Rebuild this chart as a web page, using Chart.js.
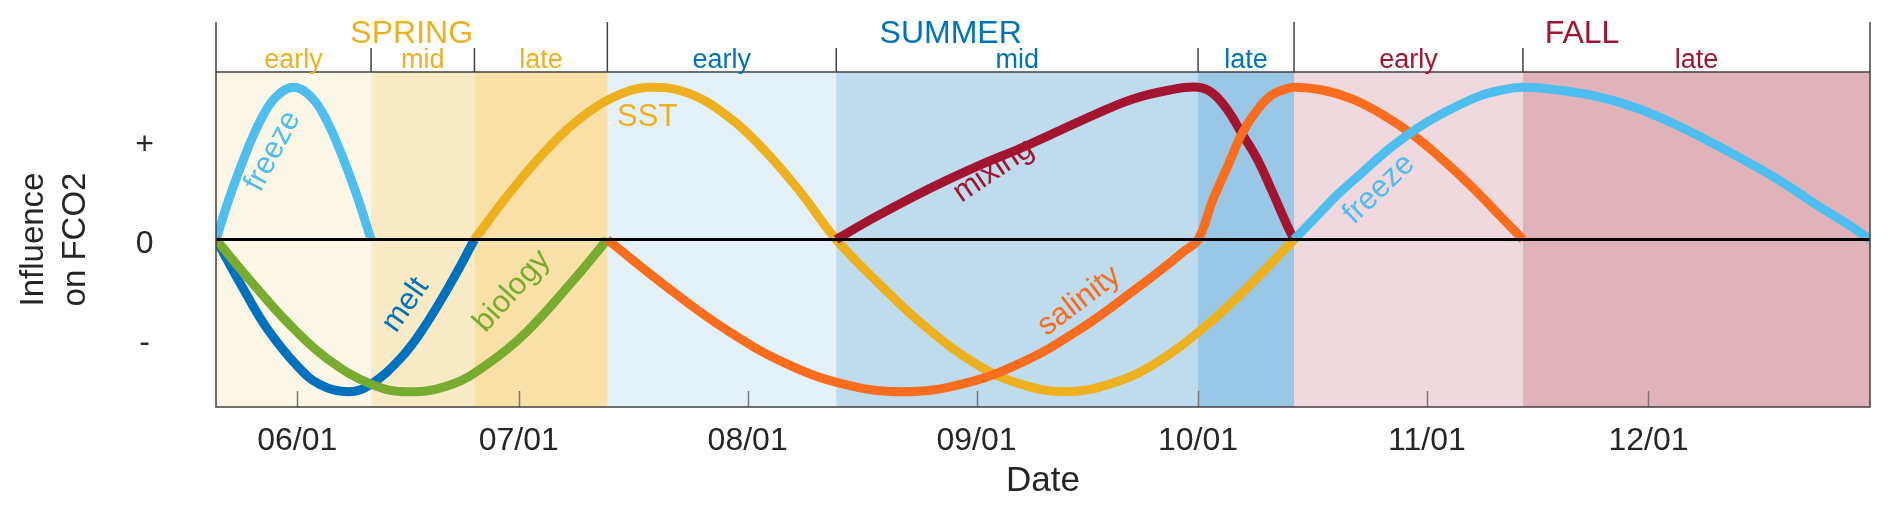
<!DOCTYPE html>
<html>
<head>
<meta charset="utf-8">
<title>Seasonal influence on FCO2</title>
<script src="https://cdn.jsdelivr.net/npm/chart.js@4.4.1/dist/chart.umd.min.js"></script>
<style>
  html, body { margin: 0; padding: 0; background: #fff; }
  #wrap { width: 1892px; height: 514px; }
</style>
</head>
<body>
<div id="wrap"><canvas id="chart" width="1892" height="514"></canvas></div>
<script>
// dates are MM/DD within one (non-leap) year, values are relative influence
const xStart = '05/21';
const xEnd = '12/31';

const seasonNames = ['SPRING', 'SUMMER', 'FALL'];
const seasonBounds = ['05/21', '07/13', '10/14', '12/31'];
const phaseNames = ['early', 'mid', 'late', 'early', 'mid', 'late', 'early', 'late'];
const phaseBounds = ['05/21', '06/11', '06/25', '07/13', '08/13', '10/01', '10/14', '11/14', '12/31'];
const phaseSeason = [0, 0, 0, 1, 1, 1, 2, 2];

const monthTicks = ['06/01', '07/01', '08/01', '09/01', '10/01', '11/01', '12/01'];
const yTickValues = [-0.65, 0, 0.65];
const yTickLabels = ['-', '0', '+'];

const zeroDates = ['05/21', '12/31'];
const zeroValues = [0, 0];

const freezeSpringDates = ['05/21', '05/23', '05/25', '05/27', '05/29', '05/31.5', '06/03', '06/05', '06/07', '06/09', '06/11'];
const freezeSpringValues = [0, 0.30, 0.56, 0.78, 0.93, 1.0, 0.93, 0.78, 0.56, 0.30, 0];

const meltDates = ['05/21', '05/25', '05/28', '06/01', '06/04', '06/08', '06/11', '06/15', '06/18', '06/22', '06/25'];
const meltValues = [0, -0.35, -0.59, -0.83, -0.95, -1.0, -0.95, -0.78, -0.59, -0.27, 0];

const biologyDates = ['05/21', '05/26', '05/31', '06/05', '06/11', '06/16', '06/22', '06/27', '07/02', '07/08', '07/13'];
const biologyValues = [0, -0.29, -0.56, -0.78, -0.95, -1.0, -0.95, -0.81, -0.61, -0.29, 0];

const sstDates = ['06/25', '06/30', '07/05', '07/10', '07/15', '07/19', '07/24', '07/29', '08/03', '08/08', '08/13',
  '08/19', '08/25', '09/01', '09/07', '09/13', '09/19', '09/25', '10/02', '10/08', '10/14'];
const sstValues = [0, 0.32, 0.60, 0.82, 0.96, 1.0, 0.96, 0.82, 0.60, 0.32, 0,
  -0.30, -0.57, -0.82, -0.95, -1.0, -0.95, -0.82, -0.57, -0.30, 0];

const salinityDates = ['07/13', '07/21', '07/29', '08/06', '08/14', '08/22', '08/30', '09/07', '09/15', '09/23', '09/27', '09/29', '10/01',
  '10/03', '10/05', '10/07', '10/09', '10/11', '10/13', '10/14',
  '10/18', '10/22', '10/26', '10/30', '11/03', '11/07', '11/11', '11/14'];
const salinityValues = [0, -0.31, -0.59, -0.81, -0.95, -1.0, -0.95, -0.81, -0.59, -0.31, -0.16, -0.08, 0,
  0.26, 0.48, 0.70, 0.85, 0.95, 0.99, 1.0,
  0.98, 0.92, 0.82, 0.69, 0.53, 0.35, 0.15, 0];

const mixingDates = ['08/13', '08/18', '08/23', '08/28', '09/02', '09/07', '09/12', '09/17', '09/22', '09/27', '10/01',
  '10/03', '10/05', '10/07', '10/09', '10/11', '10/13', '10/14'];
const mixingValues = [0, 0.14, 0.27, 0.39, 0.50, 0.60, 0.71, 0.82, 0.92, 0.98, 1.0,
  0.96, 0.85, 0.69, 0.53, 0.32, 0.10, 0];

const freezeFallDates = ['10/14', '10/17', '10/20', '10/23', '10/27', '10/31', '11/04', '11/08', '11/11', '11/14',
  '11/19', '11/24', '11/29', '12/04', '12/09', '12/14', '12/19', '12/24', '12/28', '12/31'];
const freezeFallValues = [0, 0.15, 0.30, 0.43, 0.60, 0.74, 0.85, 0.94, 0.98, 1.0,
  0.98, 0.94, 0.87, 0.77, 0.65, 0.52, 0.38, 0.22, 0.10, 0];

// styling
const FONT = '"Liberation Sans", Arial, Helvetica, sans-serif';
const TEXT = '#262626';
const seasonColors = ['#EDB120', '#0072BD', '#A2142F'];
const phaseAlpha = [0.1, 0.25, 0.4, 0.1, 0.25, 0.4, 0.16, 0.33];
const C = {
  freeze: '#4DBEEE',
  melt: '#0072BD',
  biology: '#77AC30',
  sst: '#EDB120',
  salinity: '#FA6C1E',
  mixing: '#A2142F'
};

// text written along the curves
const curveLabels = [
  { text: 'freeze', at: ['05/28.7', 0.58], angle: -62, color: C.freeze },
  { text: 'melt', at: ['06/15.7', -0.43], angle: -55, color: C.melt },
  { text: 'biology', at: ['06/30.1', -0.34], angle: -48, color: C.biology },
  { text: 'SST', at: ['07/18.4', 0.80], angle: 0, color: C.sst },
  { text: 'mixing', at: ['09/03.3', 0.45], angle: -34, color: C.mixing },
  { text: 'salinity', at: ['09/14.9', -0.405], angle: -37, color: C.salinity },
  { text: 'freeze', at: ['10/25.5', 0.33], angle: -44, color: C.freeze }
];

function doy(s) {
  const [m, d] = s.split('/').map(Number);
  return (Date.UTC(2021, m - 1, 1) - Date.UTC(2021, 0, 1)) / 864e5 + d;
}

function pts(dates, values) {
  return dates.map((d, i) => ({ x: doy(d), y: values[i] }));
}

function rgba(hex, a) {
  const n = parseInt(hex.slice(1), 16);
  return `rgba(${n >> 16}, ${(n >> 8) & 255}, ${n & 255}, ${a})`;
}

const curve = (dates, values, color) => ({
  data: pts(dates, values),
  borderColor: color,
  borderWidth: 9,
  tension: 0.4
});

const datasets = [
  { data: pts(zeroDates, zeroValues), borderColor: '#000', borderWidth: 3, tension: 0 },
  curve(freezeFallDates, freezeFallValues, C.freeze),
  curve(salinityDates, salinityValues, C.salinity),
  curve(mixingDates, mixingValues, C.mixing),
  curve(sstDates, sstValues, C.sst),
  curve(biologyDates, biologyValues, C.biology),
  curve(meltDates, meltValues, C.melt),
  curve(freezeSpringDates, freezeSpringValues, C.freeze)
];

const seasonPlugin = {
  id: 'seasons',
  beforeDatasetsDraw(chart) {
    const { ctx, chartArea: a, scales: { x } } = chart;
    ctx.save();
    phaseNames.forEach((_, i) => {
      const x0 = x.getPixelForValue(doy(phaseBounds[i]));
      const x1 = x.getPixelForValue(doy(phaseBounds[i + 1]));
      ctx.fillStyle = rgba(seasonColors[phaseSeason[i]], phaseAlpha[i]);
      ctx.fillRect(x0, a.top, x1 - x0, a.bottom - a.top);
    });
    ctx.restore();
  },
  afterDatasetsDraw(chart) {
    const { ctx, chartArea: a, scales: { x, y } } = chart;
    ctx.save();

    // inward month ticks
    ctx.strokeStyle = '#777';
    ctx.lineWidth = 1.5;
    x.ticks.forEach(t => {
      const px = Math.round(x.getPixelForValue(t.value)) + 0.5;
      ctx.beginPath();
      ctx.moveTo(px, a.bottom);
      ctx.lineTo(px, a.bottom - 16);
      ctx.stroke();
    });

    // frame
    ctx.strokeStyle = '#404040';
    ctx.lineWidth = 1.5;
    ctx.strokeRect(a.left, a.top, a.right - a.left, a.bottom - a.top);

    // season header lines
    seasonBounds.forEach(d => {
      const px = x.getPixelForValue(doy(d));
      ctx.beginPath();
      ctx.moveTo(px, 22);
      ctx.lineTo(px, a.top);
      ctx.stroke();
    });
    phaseBounds.forEach(d => {
      if (seasonBounds.includes(d)) return;
      const px = x.getPixelForValue(doy(d));
      ctx.beginPath();
      ctx.moveTo(px, 48);
      ctx.lineTo(px, a.top);
      ctx.stroke();
    });

    // season and phase names
    ctx.textAlign = 'center';
    ctx.textBaseline = 'alphabetic';
    ctx.font = `32px ${FONT}`;
    seasonNames.forEach((name, i) => {
      const x0 = x.getPixelForValue(doy(seasonBounds[i]));
      const x1 = x.getPixelForValue(doy(seasonBounds[i + 1]));
      ctx.fillStyle = seasonColors[i];
      ctx.fillText(name, (x0 + x1) / 2, 43);
    });
    ctx.font = `27px ${FONT}`;
    phaseNames.forEach((name, i) => {
      const x0 = x.getPixelForValue(doy(phaseBounds[i]));
      const x1 = x.getPixelForValue(doy(phaseBounds[i + 1]));
      ctx.fillStyle = seasonColors[phaseSeason[i]];
      ctx.fillText(name, (x0 + x1) / 2, 68);
    });

    // curve names
    ctx.font = `31px ${FONT}`;
    ctx.textBaseline = 'middle';
    curveLabels.forEach(l => {
      ctx.save();
      ctx.translate(x.getPixelForValue(doy(l.at[0])), y.getPixelForValue(l.at[1]));
      ctx.rotate(l.angle * Math.PI / 180);
      ctx.fillStyle = l.color;
      ctx.fillText(l.text, 0, 0);
      ctx.restore();
    });
    ctx.restore();
  }
};

new Chart(document.getElementById('chart'), {
  type: 'line',
  data: { datasets },
  options: {
    responsive: false,
    animation: false,
    devicePixelRatio: 1,
    layout: { padding: { top: 72, right: 22, left: 0, bottom: 0 } },
    elements: {
      point: { radius: 0, hoverRadius: 0 },
      line: { borderCapStyle: 'butt', borderJoinStyle: 'round', fill: false }
    },
    plugins: { legend: { display: false }, tooltip: { enabled: false } },
    scales: {
      x: {
        type: 'linear',
        min: doy(xStart),
        max: doy(xEnd),
        grid: { display: false, drawTicks: false },
        border: { display: false },
        afterFit: s => { s.height = 107; s.paddingLeft = 0; s.paddingRight = 0; },
        afterBuildTicks: s => { s.ticks = monthTicks.map(d => ({ value: doy(d) })); },
        ticks: {
          autoSkip: false,
          maxRotation: 0,
          padding: 15,
          color: TEXT,
          font: { family: FONT, size: 32 },
          callback: (v, i) => monthTicks[i]
        },
        title: {
          display: true,
          text: 'Date',
          color: TEXT,
          font: { family: FONT, size: 35 },
          padding: { top: 0, bottom: 12 }
        }
      },
      y: {
        min: -1.1,
        max: 1.1,
        grid: { display: false, drawTicks: false },
        border: { display: false },
        afterFit: s => { s.width = 216; s.paddingTop = 0; s.paddingBottom = 0; },
        afterBuildTicks: s => { s.ticks = yTickValues.map(v => ({ value: v })); },
        ticks: {
          padding: 62,
          labelOffset: 5,
          crossAlign: 'center',
          color: TEXT,
          font: { family: FONT, size: 32 },
          callback: (v, i) => yTickLabels[i]
        },
        title: {
          display: true,
          text: ['Influence', 'on FCO2'],
          color: TEXT,
          font: { family: FONT, size: 33, lineHeight: 1.27 },
          padding: { top: 13, bottom: 0 }
        }
      }
    }
  },
  plugins: [seasonPlugin]
});
</script>
</body>
</html>
